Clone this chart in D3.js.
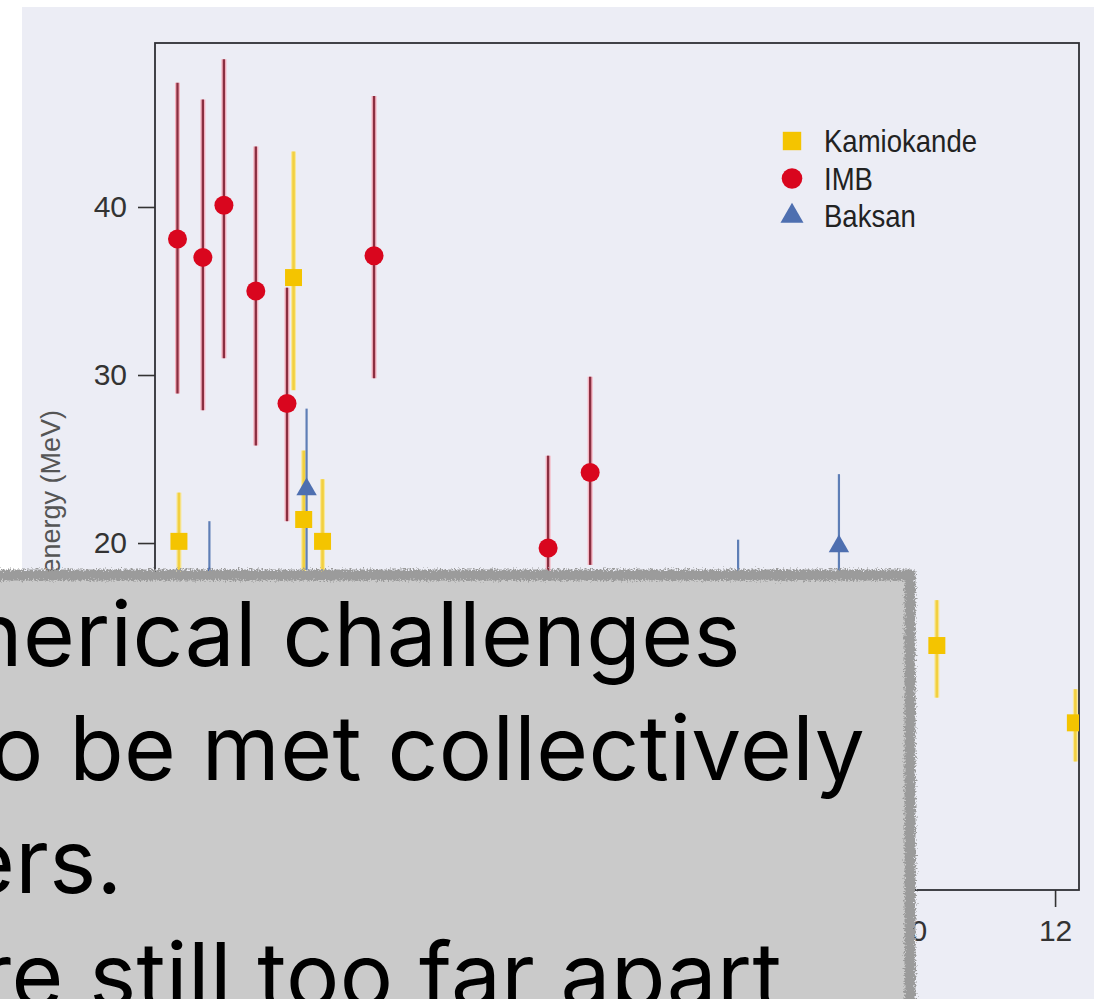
<!DOCTYPE html>
<html>
<head>
<meta charset="utf-8">
<script src="https://cdn.jsdelivr.net/npm/d3@7"></script>
<style>
  html, body { margin: 0; padding: 0; background: #ffffff; overflow: hidden; }
  svg { display: block; }
</style>
</head>
<body>
<svg id="chart" width="1094" height="999"></svg>
<script>
// SN 1987A neutrino events: arrival time (s), energy (MeV) and error-bar range
const kamiokandeTime   = [-0.08, 1.50, 1.64, 1.90, 10.37, 12.28];
const kamiokandeEnergy = [20.1, 35.8, 21.4, 20.1, 13.9, 9.3];
const kamiokandeLow    = [17.2, 29.1, 17.3, 16.5, 10.8, 7.0];
const kamiokandeHigh   = [23.0, 43.3, 25.5, 23.8, 16.6, 11.3];

const imbTime   = [-0.10, 0.25, 0.54, 0.98, 1.41, 2.61, 5.01, 5.59];
const imbEnergy = [38.1, 37.0, 40.1, 35.0, 28.3, 37.1, 19.7, 24.2];
const imbLow    = [28.9, 27.9, 31.0, 25.8, 21.3, 29.8, 14.2, 18.7];
const imbHigh   = [47.4, 46.4, 48.8, 43.6, 35.2, 46.6, 25.2, 29.9];

const baksanTime   = [0.34, 1.68, 7.63, 9.02];
const baksanEnergy = [17.9, 23.2, 16.8, 19.8];
const baksanLow    = [14.4, 18.4, 13.4, 15.5];
const baksanHigh   = [21.3, 28.0, 20.2, 24.1];

const seriesNames = ["Kamiokande", "IMB", "Baksan"];
const xTicks = [10, 12];
const yTicks = [20, 30, 40];

const noteLines = ["nerical challenges", "o be met collectively", "ers.", "re still too far apart"];

const W = 1094, H = 999;
const plot = { left: 155, top: 43, right: 1079, bottom: 890 };

const svg = d3.select("#chart");
const defs = svg.append("defs");

defs.append("clipPath").attr("id", "plot-clip")
  .append("rect")
  .attr("x", plot.left).attr("y", plot.top)
  .attr("width", plot.right - plot.left).attr("height", plot.bottom - plot.top);

// ragged edge for the annotation panel border
const rough = defs.append("filter").attr("id", "rough")
  .attr("x", "-5%").attr("y", "-5%").attr("width", "110%").attr("height", "110%");
rough.append("feTurbulence").attr("type", "fractalNoise")
  .attr("baseFrequency", "0.6").attr("numOctaves", 2).attr("seed", 7).attr("result", "noise");
rough.append("feDisplacementMap").attr("in", "SourceGraphic").attr("in2", "noise")
  .attr("scale", 8).attr("xChannelSelector", "R").attr("yChannelSelector", "G");

// page panel
svg.append("rect").attr("x", 22).attr("y", 7).attr("width", W - 22).attr("height", H - 7)
  .attr("fill", "#ECEDF5");

const x = d3.scaleLinear().domain([-0.41, 12.33]).range([plot.left, plot.right]);
const y = d3.scaleLinear().domain([-0.65, 49.76]).range([plot.bottom, plot.top]);

const tickFont = "'Liberation Sans', Arial, sans-serif";

// axes
const yAxis = svg.append("g").attr("transform", `translate(${plot.left},0)`)
  .call(d3.axisLeft(y).tickValues(yTicks).tickSize(17).tickPadding(11).tickFormat(d3.format("d")));
const xAxis = svg.append("g").attr("transform", `translate(0,${plot.bottom})`)
  .call(d3.axisBottom(x).tickValues(xTicks).tickSize(17).tickPadding(13).tickFormat(d3.format("d")));
[yAxis, xAxis].forEach(g => {
  g.select(".domain").remove();
  g.selectAll(".tick line").attr("stroke", "#333").attr("stroke-width", 1.6);
  g.selectAll(".tick text").attr("fill", "#333").style("font-family", tickFont).style("font-size", "30px");
});

svg.append("text")
  .attr("transform", "translate(60,410) rotate(-90)")
  .attr("text-anchor", "end")
  .style("font-family", tickFont).style("font-size", "27px").attr("fill", "#555")
  .text("Neutrino energy (MeV)");

// frame
svg.append("rect")
  .attr("x", plot.left).attr("y", plot.top)
  .attr("width", plot.right - plot.left).attr("height", plot.bottom - plot.top)
  .attr("fill", "none").attr("stroke", "#2f2f35").attr("stroke-width", 1.8);

const series = [
  { name: "Kamiokande", t: kamiokandeTime, e: kamiokandeEnergy, lo: kamiokandeLow, hi: kamiokandeHigh,
    shape: d3.symbolSquare, size: 289, fill: "#F4C400",
    bars: [{ c: "#F8E79A", w: 5 }, { c: "#F2D040", w: 2.6 }] },
  { name: "IMB", t: imbTime, e: imbEnergy, lo: imbLow, hi: imbHigh,
    shape: d3.symbolCircle, size: 284, fill: "#D9061E",
    bars: [{ c: "#F6B3C0", w: 5 }, { c: "#8A2E40", w: 2.3 }] },
  { name: "Baksan", t: baksanTime, e: baksanEnergy, lo: baksanLow, hi: baksanHigh,
    shape: d3.symbolTriangle, size: 180, fill: "#4E6FB0",
    bars: [{ c: "#5E7EB6", w: 2.2 }] }
];

const data = svg.append("g").attr("clip-path", "url(#plot-clip)");

// error bars first, markers on top
series.forEach(s => {
  s.bars.forEach(b => {
    data.append("g").selectAll("line")
      .data(d3.range(s.t.length))
      .join("line")
      .attr("x1", i => x(s.t[i])).attr("x2", i => x(s.t[i]))
      .attr("y1", i => y(s.lo[i])).attr("y2", i => y(s.hi[i]))
      .attr("stroke", b.c).attr("stroke-width", b.w);
  });
});
series.forEach(s => {
  data.append("g").selectAll("path")
    .data(d3.range(s.t.length))
    .join("path")
    .attr("transform", i => `translate(${x(s.t[i])},${y(s.e[i])})`)
    .attr("d", d3.symbol(s.shape, s.size))
    .attr("fill", s.fill);
});

// legend, set in a condensed width
const legend = svg.append("g").attr("transform", "translate(792,0)");
const legendY = d3.scalePoint().domain(seriesNames).range([141, 216]);
series.forEach(s => {
  legend.append("path")
    .attr("transform", `translate(0,${legendY(s.name)})`)
    .attr("d", d3.symbol(s.shape, s.size + 50))
    .attr("fill", s.fill);
  const label = legend.append("text")
    .attr("x", 32).attr("y", legendY(s.name) + 11)
    .style("font-family", tickFont)
    .style("font-size", "32px").attr("fill", "#222")
    .text(s.name);
  const natural = label.node().getComputedTextLength();
  label.attr("textLength", natural * 0.86).attr("lengthAdjust", "spacingAndGlyphs");
});

// annotation panel laid over the lower part of the figure
const note = svg.append("g");
note.append("rect")
  .attr("x", -40).attr("y", 575).attr("width", 950).attr("height", 480)
  .attr("fill", "#CACACA");
note.append("rect")
  .attr("x", -40).attr("y", 575).attr("width", 950).attr("height", 480)
  .attr("fill", "none").attr("stroke", "#9B9B9B").attr("stroke-width", 11)
  .attr("filter", "url(#rough)");

const noteX = [-30, -10, -37, -21];
const noteLine = d3.scaleLinear().domain([0, 3]).range([666, 1007]);
note.selectAll("text.note")
  .data(noteLines)
  .join("text")
  .attr("class", "note")
  .attr("x", (d, i) => noteX[i])
  .attr("y", (d, i) => noteLine(i))
  .style("font-family", "Inter, Roboto, sans-serif")
  .style("font-size", "89px")
  .style("letter-spacing", "0.4px")
  .attr("fill", "#000")
  .text(d => d);
</script>
</body>
</html>
